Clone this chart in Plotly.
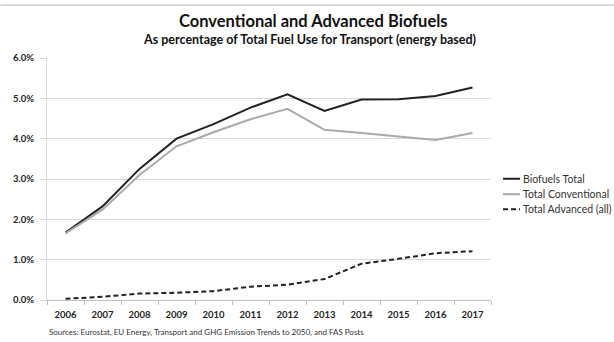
import plotly.graph_objects as go

years = ["2006", "2007", "2008", "2009", "2010", "2011", "2012", "2013", "2014", "2015", "2016", "2017"]
biofuels_total = [1.67, 2.32, 3.25, 4.00, 4.36, 4.77, 5.10, 4.69, 4.97, 4.98, 5.06, 5.27]
total_conventional = [1.65, 2.24, 3.10, 3.81, 4.16, 4.48, 4.74, 4.22, 4.14, 4.05, 3.97, 4.14]
total_advanced = [0.03, 0.08, 0.16, 0.18, 0.22, 0.33, 0.38, 0.52, 0.90, 1.02, 1.16, 1.21]
y_ticks = [0, 1, 2, 3, 4, 5, 6]
y_tick_labels = ["0.0%", "1.0%", "2.0%", "3.0%", "4.0%", "5.0%", "6.0%"]

series_names = ["Biofuels Total", "Total Conventional", "Total Advanced (all)"]
series_values = [biofuels_total, total_conventional, total_advanced]
series_styles = [
    dict(color="#222222", width=2),
    dict(color="#aaaaaa", width=2),
    dict(color="#222222", width=2, dash="5px,3px"),
]

FONT = "Lato, Open Sans, sans-serif"
W, H = 614, 342
L, R, T, B = 46.5, 491, 58, 300.5


def px_x(px):
    return (px - L) / (R - L)


def px_y(py):
    return (B - py) / (B - T)


fig = go.Figure()
for name, vals, style in zip(series_names, series_values, series_styles):
    fig.add_trace(go.Scatter(x=years, y=vals, mode="lines", name=name, line=style,
                             showlegend=False))

fig.update_layout(
    width=W, height=H,
    margin=dict(l=L, r=W - R, t=T, b=H - B, autoexpand=False),
    paper_bgcolor="white", plot_bgcolor="white",
    font=dict(family=FONT, color="#222222"),
    showlegend=False,
    xaxis=dict(type="category", range=[-0.5, 11.5], tickson="boundaries",
               ticks="outside", ticklen=4, tickcolor="#bfbfbf",
               showline=True, linecolor="#bfbfbf", linewidth=1,
               showgrid=False, ticklabelstandoff=6,
               tickfont=dict(size=9.5, color="#222222", weight="bold")),
    yaxis=dict(range=[0, 6], tickvals=y_ticks, ticktext=y_tick_labels,
               showgrid=True, gridcolor="#d9d9d9", gridwidth=1,
               showline=True, linecolor="#d9d9d9", zeroline=False,
               ticks="outside", ticklen=6, tickcolor="#d9d9d9",
               ticklabelstandoff=4,
               tickfont=dict(size=9.5, color="#222222", weight="bold")),
)

# titles
fig.add_annotation(text="<b>Conventional and Advanced Biofuels</b>", xref="paper", yref="paper",
                   x=px_x(313), y=px_y(21), yanchor="middle", showarrow=False,
                   font=dict(size=16.5, color="#111111"))
fig.add_annotation(text="<b>As percentage of Total Fuel Use for Transport (energy based)</b>",
                   xref="paper", yref="paper", x=px_x(309), y=px_y(39), yanchor="middle",
                   showarrow=False, font=dict(size=12.5, color="#111111"))
fig.add_annotation(text="Sources: Eurostat, EU Energy, Transport and GHG Emission Trends to 2050, and FAS Posts",
                   xref="paper", yref="paper", x=px_x(46), y=px_y(333), xanchor="left",
                   yanchor="middle", showarrow=False, font=dict(size=8, color="#333333"))

# legend drawn beside the plot
legend_rows = [179, 194.5, 209.5]
for name, style, row in zip(series_names, series_styles, legend_rows):
    fig.add_shape(type="line", xref="paper", yref="paper",
                  x0=px_x(503), x1=px_x(520), y0=px_y(row), y1=px_y(row),
                  line=style)
    fig.add_annotation(text=name, xref="paper", yref="paper", x=px_x(521), y=px_y(row),
                       xanchor="left", yanchor="middle", showarrow=False,
                       font=dict(size=10.5, color="#333333"))

# frame line across the top of the chart
fig.add_shape(type="line", xref="paper", yref="paper", x0=px_x(0), x1=px_x(W),
              y0=px_y(5), y1=px_y(5), line=dict(color="#b5b5b5", width=1))

fig.write_html("out.html")
